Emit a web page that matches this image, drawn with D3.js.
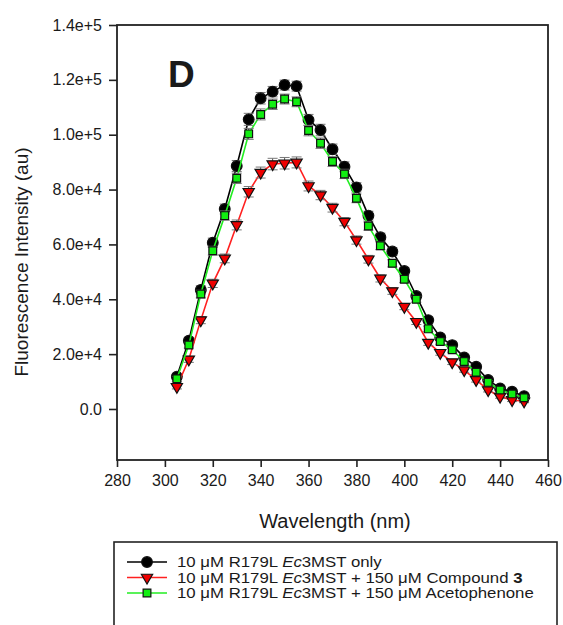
<!DOCTYPE html>
<html><head><meta charset="utf-8">
<script src="https://cdn.jsdelivr.net/npm/d3@7"></script>
<style>body{margin:0;background:#fff}svg{display:block}text{font-family:Arial,"Liberation Sans",sans-serif;fill:#1a1a1a}</style>
</head><body><svg id="c" width="563" height="625"></svg>
<script>
const wavelength = [305,310,315,320,325,330,335,340,345,350,355,360,365,370,375,380,385,390,395,400,405,410,415,420,425,430,435,440,445,450];
const onlyR179L = [11800,24900,43400,60600,72900,88600,105600,113300,115700,118100,117700,105400,101700,94700,88300,80800,70500,62600,57400,50300,41200,32400,26100,23300,18800,15400,10600,7500,6300,4700];
const compound3 = [8100,18100,32400,45800,54900,67100,79200,86200,89300,89600,89900,81300,78000,73400,68300,61600,54600,47600,43000,37300,31800,24200,20500,17100,14200,10600,6900,4500,3300,2800];
const acetophenone = [11000,23300,41900,57700,70500,84100,100300,107400,111100,113000,112000,101500,96900,90200,85700,76800,66700,59500,53100,47300,40000,29200,24600,21600,17300,13400,9700,6900,5500,4100];
const errOnly = [900,1200,1500,1700,1800,2000,2200,2100,1900,1800,1800,2000,2100,1900,1800,1700,1600,1500,1400,1300,1200,1100,1000,1000,900,900,800,700,700,600];
const errCompound = [800,1100,1300,1500,1600,1800,1900,2000,2100,2100,2000,1800,1700,1600,1500,1500,1400,1300,1200,1100,1000,1000,900,900,800,800,700,600,600,500];
const errAceto = [900,1100,1400,1600,1700,1900,2000,2000,1900,1800,1800,1900,1900,1800,1700,1600,1500,1400,1300,1200,1100,1000,1000,900,900,800,700,700,600,600];
const xTicks = [280,300,320,340,360,380,400,420,440,460];
const yTicks = [0,20000,40000,60000,80000,100000,120000,140000];
const yTickLabels = ["0.0","2.0e+4","4.0e+4","6.0e+4","8.0e+4","1.0e+5","1.2e+5","1.4e+5"];

const svg = d3.select("#c");
const L=117,R=548,T=25,B=460;
const x = d3.scaleLinear().domain([280,460]).range([L,R]);
const y = d3.scaleLinear().domain([-18600,140000]).range([B,T]);

svg.append("rect").attr("x",L).attr("y",T).attr("width",R-L).attr("height",B-T)
  .attr("fill","none").attr("stroke","#222").attr("stroke-width",1.8);

const xAxis = svg.append("g").attr("transform",`translate(0,${B})`)
  .call(d3.axisBottom(x).tickValues(xTicks).tickSize(7).tickPadding(8).tickFormat(d3.format("d")));
const yAxis = svg.append("g").attr("transform",`translate(${L},0)`)
  .call(d3.axisLeft(y).tickValues(yTicks).tickSize(8).tickPadding(7).tickFormat((d,i)=>yTickLabels[i]));
[xAxis,yAxis].forEach(g=>{
  g.select(".domain").remove();
  g.selectAll(".tick line").attr("stroke","#222").attr("stroke-width",1.6);
  g.selectAll(".tick text").style("font-size","16px").style("font-family","Arial, 'Liberation Sans', sans-serif").attr("fill","#1a1a1a");
});

svg.append("text").attr("x",335).attr("y",528).attr("text-anchor","middle").style("font-size","20px").text("Wavelength (nm)");
svg.append("text").attr("transform","translate(28,262) rotate(-90)").attr("text-anchor","middle").style("font-size","19px").text("Fluorescence Intensity (au)");
svg.append("text").attr("x",168).attr("y",87).style("font-size","37px").style("font-weight","bold").attr("fill","#000").text("D");

const series = [
  {vals:onlyR179L, err:errOnly, color:"#000000", sym:d3.symbolCircle, size:90, fill:"#000"},
  {vals:compound3, err:errCompound, color:"#ff2020", sym:d3.symbolTriangle, size:55, fill:"#ee0000", rot:180},
  {vals:acetophenone, err:errAceto, color:"#22ee22", sym:d3.symbolSquare, size:60, fill:"#11ee11"}
];
const line = d3.line().x(d=>x(d[0])).y(d=>y(d[1]));
series.forEach(s=>{
  const pts = wavelength.map((w,i)=>[w,s.vals[i],s.err[i]]);
  const g = svg.append("g");
  g.append("path").attr("d",line(pts)).attr("fill","none").attr("stroke",s.color).attr("stroke-width",1.6);
  const eb = g.selectAll(".eb").data(pts).enter().append("g");
  eb.append("line").attr("x1",d=>x(d[0])).attr("x2",d=>x(d[0])).attr("y1",d=>y(d[1]-d[2])).attr("y2",d=>y(d[1]+d[2])).attr("stroke","#555").attr("stroke-width",1);
  [1,-1].forEach(sg=>{
    eb.append("line").attr("x1",d=>x(d[0])-5).attr("x2",d=>x(d[0])+5).attr("y1",d=>y(d[1]+sg*d[2])).attr("y2",d=>y(d[1]+sg*d[2])).attr("stroke","#777").attr("stroke-width",1);
  });
  g.selectAll(".m").data(pts).enter().append("path")
    .attr("d",d3.symbol().type(s.sym).size(s.size))
    .attr("transform",d=>`translate(${x(d[0])},${y(d[1])})${s.rot?" rotate(180)":""}`)
    .attr("fill",s.fill).attr("stroke","#111").attr("stroke-width",1.2);
});

svg.append("rect").attr("x",114).attr("y",542).attr("width",443).attr("height",120)
  .attr("fill","#fff").attr("stroke","#222").attr("stroke-width",1.6);
const legRows = [
  {i:0, parts:[["10 μM R179L ",""],["Ec","italic"],["3MST only",""]]},
  {i:1, parts:[["10 μM R179L ",""],["Ec","italic"],["3MST + 150 μM Compound ",""],["3","bold"]]},
  {i:2, parts:[["10 μM R179L ",""],["Ec","italic"],["3MST + 150 μM Acetophenone",""]]}
];
const rowY = [562,577.5,593];
legRows.forEach((r,k)=>{
  const s = series[r.i], yy = rowY[k];
  svg.append("line").attr("x1",127).attr("x2",167).attr("y1",yy).attr("y2",yy).attr("stroke",s.color).attr("stroke-width",1.6);
  svg.append("path").attr("d",d3.symbol().type(s.sym).size(s.size)())
    .attr("transform",`translate(147,${yy})${s.rot?" rotate(180)":""}`)
    .attr("fill",s.fill).attr("stroke","#111").attr("stroke-width",1.2);
  const t = svg.append("text").attr("transform",`translate(177,${yy+5}) scale(1.2,1)`).style("font-size","14px");
  r.parts.forEach(p=>{
    const ts = t.append("tspan").text(p[0]);
    if(p[1]==="italic") ts.style("font-style","italic");
    if(p[1]==="bold") ts.style("font-weight","bold");
  });
});
</script></body></html>
